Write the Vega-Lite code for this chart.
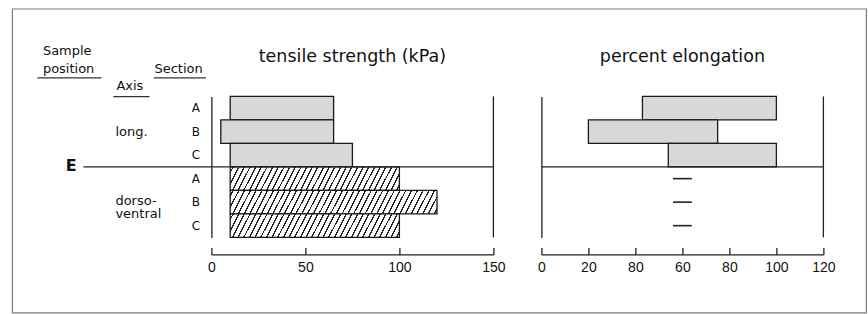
{
  "$schema": "https://vega.github.io/schema/vega-lite/v6.json",
  "background": "white",
  "padding": {"left": 11.4, "top": 7.4, "right": 1, "bottom": 1},
  "bounds": "flush",
  "spacing": 48,
  "datasets": {
    "rows": [
      {"row": "long. A", "axis": "long.", "section": "A", "ts_lo": 10, "ts_hi": 65, "el_lo": 43, "el_hi": 100},
      {"row": "long. B", "axis": "long.", "section": "B", "ts_lo": 5, "ts_hi": 65, "el_lo": 20, "el_hi": 75},
      {"row": "long. C", "axis": "long.", "section": "C", "ts_lo": 10, "ts_hi": 75, "el_lo": 54, "el_hi": 100},
      {"row": "dorso-ventral A", "axis": "dorso-ventral", "section": "A", "ts_lo": 10, "ts_hi": 100, "el_lo": 56, "el_hi": 64},
      {"row": "dorso-ventral B", "axis": "dorso-ventral", "section": "B", "ts_lo": 10, "ts_hi": 120, "el_lo": 56, "el_hi": 64},
      {"row": "dorso-ventral C", "axis": "dorso-ventral", "section": "C", "ts_lo": 10, "ts_hi": 100, "el_lo": 56, "el_hi": 64}
    ]
  },
  "hconcat": [
    {
      "width": 128,
      "height": 141,
      "data": {"values": [{}]},
      "layer": [
        {"mark": {"type": "text", "align": "left", "baseline": "middle", "fontSize": 13},
         "encoding": {"x": {"datum": 5.86, "type": "quantitative", "scale": {"domain": [0, 100], "nice": false, "zero": false}, "axis": null},
                      "y": {"datum": -1.94, "type": "quantitative", "scale": {"domain": [0, 6], "reverse": true, "nice": false, "zero": false}, "axis": null},
                      "text": {"value": "Sample"}}},
        {"mark": {"type": "text", "align": "left", "baseline": "middle", "fontSize": 13},
         "encoding": {"x": {"datum": 5.86, "type": "quantitative", "axis": null},
                      "y": {"datum": -1.15, "type": "quantitative", "axis": null},
                      "text": {"value": "position"}}},
        {"mark": {"type": "text", "align": "left", "baseline": "middle", "fontSize": 13},
         "encoding": {"x": {"datum": 93, "type": "quantitative", "axis": null},
                      "y": {"datum": -1.15, "type": "quantitative", "axis": null},
                      "text": {"value": "Section"}}},
        {"mark": {"type": "text", "align": "left", "baseline": "middle", "fontSize": 13},
         "encoding": {"x": {"datum": 63.3, "type": "quantitative", "axis": null},
                      "y": {"datum": -0.45, "type": "quantitative", "axis": null},
                      "text": {"value": "Axis"}}},
        {"mark": {"type": "text", "align": "left", "baseline": "middle", "fontSize": 13},
         "encoding": {"x": {"datum": 62.5, "type": "quantitative", "axis": null},
                      "y": {"datum": 1.52, "type": "quantitative", "axis": null},
                      "text": {"value": "long."}}},
        {"mark": {"type": "text", "align": "left", "baseline": "middle", "fontSize": 13, "lineHeight": 13.5},
         "encoding": {"x": {"datum": 62.5, "type": "quantitative", "axis": null},
                      "y": {"datum": 4.45, "type": "quantitative", "axis": null},
                      "text": {"value": ["dorso-", "ventral"]}}},
        {"mark": {"type": "text", "align": "center", "baseline": "middle", "fontSize": 16, "fontWeight": "bold"},
         "encoding": {"x": {"datum": 27.9, "type": "quantitative", "axis": null},
                      "y": {"datum": 2.96, "type": "quantitative", "axis": null},
                      "text": {"value": "E"}}},
        {"mark": {"type": "rule", "color": "#333", "strokeWidth": 1.4},
         "encoding": {"x": {"datum": 1.56, "type": "quantitative", "axis": null}, "x2": {"datum": 51.6},
                      "y": {"datum": -0.79, "type": "quantitative", "axis": null}}},
        {"mark": {"type": "rule", "color": "#333", "strokeWidth": 1.4},
         "encoding": {"x": {"datum": 92.6, "type": "quantitative", "axis": null}, "x2": {"datum": 133.2},
                      "y": {"datum": -0.79, "type": "quantitative", "axis": null}}},
        {"mark": {"type": "rule", "color": "#333", "strokeWidth": 1.4},
         "encoding": {"x": {"datum": 60.9, "type": "quantitative", "axis": null}, "x2": {"datum": 89.1},
                      "y": {"datum": 0.01, "type": "quantitative", "axis": null}}},
        {"mark": {"type": "rule", "color": "#222", "strokeWidth": 1.3},
         "encoding": {"x": {"datum": 37.5, "type": "quantitative", "axis": null}, "x2": {"datum": 137.5},
                      "y": {"datum": 3, "type": "quantitative", "axis": null}}},
        {"mark": {"type": "rect", "fill": null, "fillOpacity": 0, "stroke": "#7a7a7a", "strokeWidth": 1.2},
         "encoding": {"x": {"datum": -17.97, "type": "quantitative", "axis": null}, "x2": {"datum": 649.2},
                      "y": {"datum": -3.72, "type": "quantitative", "axis": null}, "y2": {"datum": 9.21}}}
      ]
    },
    {
      "width": 282,
      "height": 141,
      "title": {"text": "tensile strength (kPa)"},
      "data": {"name": "rows"},
      "layer": [
        {"mark": {"type": "bar", "stroke": "#1a1a1a", "strokeWidth": 1.3},
         "encoding": {
           "y": {"field": "row", "type": "nominal",
                 "scale": {"domain": ["long. A", "long. B", "long. C", "dorso-ventral A", "dorso-ventral B", "dorso-ventral C"], "paddingInner": 0, "paddingOuter": 0},
                 "axis": {"title": null, "ticks": false, "tickSize": 0, "labelExpr": "slice(datum.label, -1)", "labelAlign": "center", "labelPadding": 16, "labelFont": "DejaVu Sans", "labelFontSize": 12, "labelColor": "#111"}},
           "x": {"field": "ts_lo", "type": "quantitative", "scale": {"domain": [0, 150], "nice": false, "zero": false},
                 "axis": {"title": null, "values": [0, 50, 100, 150]}},
           "x2": {"field": "ts_hi"},
           "fill": {
             "condition": [
               {"test": "datum.axis === 'long.'", "value": "#d8d8d8"},
               {"test": "datum.section === 'B'", "value": {"gradient": "linear", "x1": 0, "y1": 0, "x2": 1.0545, "y2": 0.0612, "stops": [
                 {"offset": 0, "color": "#fff"},
                 {"offset": 0.01, "color": "#fff"}, {"offset": 0.01, "color": "#222"}, {"offset": 0.0166, "color": "#222"}, {"offset": 0.0166, "color": "#fff"},
                 {"offset": 0.03632, "color": "#fff"}, {"offset": 0.03632, "color": "#222"}, {"offset": 0.04292, "color": "#222"}, {"offset": 0.04292, "color": "#fff"},
                 {"offset": 0.06263, "color": "#fff"}, {"offset": 0.06263, "color": "#222"}, {"offset": 0.06923, "color": "#222"}, {"offset": 0.06923, "color": "#fff"},
                 {"offset": 0.08895, "color": "#fff"}, {"offset": 0.08895, "color": "#222"}, {"offset": 0.09555, "color": "#222"}, {"offset": 0.09555, "color": "#fff"},
                 {"offset": 0.11526, "color": "#fff"}, {"offset": 0.11526, "color": "#222"}, {"offset": 0.12186, "color": "#222"}, {"offset": 0.12186, "color": "#fff"},
                 {"offset": 0.14158, "color": "#fff"}, {"offset": 0.14158, "color": "#222"}, {"offset": 0.14818, "color": "#222"}, {"offset": 0.14818, "color": "#fff"},
                 {"offset": 0.16789, "color": "#fff"}, {"offset": 0.16789, "color": "#222"}, {"offset": 0.17449, "color": "#222"}, {"offset": 0.17449, "color": "#fff"},
                 {"offset": 0.19421, "color": "#fff"}, {"offset": 0.19421, "color": "#222"}, {"offset": 0.20081, "color": "#222"}, {"offset": 0.20081, "color": "#fff"},
                 {"offset": 0.22053, "color": "#fff"}, {"offset": 0.22053, "color": "#222"}, {"offset": 0.22713, "color": "#222"}, {"offset": 0.22713, "color": "#fff"},
                 {"offset": 0.24684, "color": "#fff"}, {"offset": 0.24684, "color": "#222"}, {"offset": 0.25344, "color": "#222"}, {"offset": 0.25344, "color": "#fff"},
                 {"offset": 0.27316, "color": "#fff"}, {"offset": 0.27316, "color": "#222"}, {"offset": 0.27976, "color": "#222"}, {"offset": 0.27976, "color": "#fff"},
                 {"offset": 0.29947, "color": "#fff"}, {"offset": 0.29947, "color": "#222"}, {"offset": 0.30607, "color": "#222"}, {"offset": 0.30607, "color": "#fff"},
                 {"offset": 0.32579, "color": "#fff"}, {"offset": 0.32579, "color": "#222"}, {"offset": 0.33239, "color": "#222"}, {"offset": 0.33239, "color": "#fff"},
                 {"offset": 0.35211, "color": "#fff"}, {"offset": 0.35211, "color": "#222"}, {"offset": 0.35871, "color": "#222"}, {"offset": 0.35871, "color": "#fff"},
                 {"offset": 0.37842, "color": "#fff"}, {"offset": 0.37842, "color": "#222"}, {"offset": 0.38502, "color": "#222"}, {"offset": 0.38502, "color": "#fff"},
                 {"offset": 0.40474, "color": "#fff"}, {"offset": 0.40474, "color": "#222"}, {"offset": 0.41134, "color": "#222"}, {"offset": 0.41134, "color": "#fff"},
                 {"offset": 0.43105, "color": "#fff"}, {"offset": 0.43105, "color": "#222"}, {"offset": 0.43765, "color": "#222"}, {"offset": 0.43765, "color": "#fff"},
                 {"offset": 0.45737, "color": "#fff"}, {"offset": 0.45737, "color": "#222"}, {"offset": 0.46397, "color": "#222"}, {"offset": 0.46397, "color": "#fff"},
                 {"offset": 0.48368, "color": "#fff"}, {"offset": 0.48368, "color": "#222"}, {"offset": 0.49028, "color": "#222"}, {"offset": 0.49028, "color": "#fff"},
                 {"offset": 0.51, "color": "#fff"}, {"offset": 0.51, "color": "#222"}, {"offset": 0.5166, "color": "#222"}, {"offset": 0.5166, "color": "#fff"},
                 {"offset": 0.53632, "color": "#fff"}, {"offset": 0.53632, "color": "#222"}, {"offset": 0.54292, "color": "#222"}, {"offset": 0.54292, "color": "#fff"},
                 {"offset": 0.56263, "color": "#fff"}, {"offset": 0.56263, "color": "#222"}, {"offset": 0.56923, "color": "#222"}, {"offset": 0.56923, "color": "#fff"},
                 {"offset": 0.58895, "color": "#fff"}, {"offset": 0.58895, "color": "#222"}, {"offset": 0.59555, "color": "#222"}, {"offset": 0.59555, "color": "#fff"},
                 {"offset": 0.61526, "color": "#fff"}, {"offset": 0.61526, "color": "#222"}, {"offset": 0.62186, "color": "#222"}, {"offset": 0.62186, "color": "#fff"},
                 {"offset": 0.64158, "color": "#fff"}, {"offset": 0.64158, "color": "#222"}, {"offset": 0.64818, "color": "#222"}, {"offset": 0.64818, "color": "#fff"},
                 {"offset": 0.66789, "color": "#fff"}, {"offset": 0.66789, "color": "#222"}, {"offset": 0.67449, "color": "#222"}, {"offset": 0.67449, "color": "#fff"},
                 {"offset": 0.69421, "color": "#fff"}, {"offset": 0.69421, "color": "#222"}, {"offset": 0.70081, "color": "#222"}, {"offset": 0.70081, "color": "#fff"},
                 {"offset": 0.72053, "color": "#fff"}, {"offset": 0.72053, "color": "#222"}, {"offset": 0.72713, "color": "#222"}, {"offset": 0.72713, "color": "#fff"},
                 {"offset": 0.74684, "color": "#fff"}, {"offset": 0.74684, "color": "#222"}, {"offset": 0.75344, "color": "#222"}, {"offset": 0.75344, "color": "#fff"},
                 {"offset": 0.77316, "color": "#fff"}, {"offset": 0.77316, "color": "#222"}, {"offset": 0.77976, "color": "#222"}, {"offset": 0.77976, "color": "#fff"},
                 {"offset": 0.79947, "color": "#fff"}, {"offset": 0.79947, "color": "#222"}, {"offset": 0.80607, "color": "#222"}, {"offset": 0.80607, "color": "#fff"},
                 {"offset": 0.82579, "color": "#fff"}, {"offset": 0.82579, "color": "#222"}, {"offset": 0.83239, "color": "#222"}, {"offset": 0.83239, "color": "#fff"},
                 {"offset": 0.85211, "color": "#fff"}, {"offset": 0.85211, "color": "#222"}, {"offset": 0.85871, "color": "#222"}, {"offset": 0.85871, "color": "#fff"},
                 {"offset": 0.87842, "color": "#fff"}, {"offset": 0.87842, "color": "#222"}, {"offset": 0.88502, "color": "#222"}, {"offset": 0.88502, "color": "#fff"},
                 {"offset": 0.90474, "color": "#fff"}, {"offset": 0.90474, "color": "#222"}, {"offset": 0.91134, "color": "#222"}, {"offset": 0.91134, "color": "#fff"},
                 {"offset": 0.93105, "color": "#fff"}, {"offset": 0.93105, "color": "#222"}, {"offset": 0.93765, "color": "#222"}, {"offset": 0.93765, "color": "#fff"},
                 {"offset": 0.95737, "color": "#fff"}, {"offset": 0.95737, "color": "#222"}, {"offset": 0.96397, "color": "#222"}, {"offset": 0.96397, "color": "#fff"},
                 {"offset": 0.98368, "color": "#fff"}, {"offset": 0.98368, "color": "#222"}, {"offset": 0.99028, "color": "#222"}, {"offset": 0.99028, "color": "#fff"},
                 {"offset": 1, "color": "#fff"}
               ]}}
             ],
             "value": {"gradient": "linear", "x1": 0, "y1": 0, "x2": 1.0656, "y2": 0.0755, "stops": [
               {"offset": 0, "color": "#fff"},
               {"offset": 0.012, "color": "#fff"}, {"offset": 0.012, "color": "#222"}, {"offset": 0.02, "color": "#222"}, {"offset": 0.02, "color": "#fff"},
               {"offset": 0.04325, "color": "#fff"}, {"offset": 0.04325, "color": "#222"}, {"offset": 0.05125, "color": "#222"}, {"offset": 0.05125, "color": "#fff"},
               {"offset": 0.0745, "color": "#fff"}, {"offset": 0.0745, "color": "#222"}, {"offset": 0.0825, "color": "#222"}, {"offset": 0.0825, "color": "#fff"},
               {"offset": 0.10575, "color": "#fff"}, {"offset": 0.10575, "color": "#222"}, {"offset": 0.11375, "color": "#222"}, {"offset": 0.11375, "color": "#fff"},
               {"offset": 0.137, "color": "#fff"}, {"offset": 0.137, "color": "#222"}, {"offset": 0.145, "color": "#222"}, {"offset": 0.145, "color": "#fff"},
               {"offset": 0.16825, "color": "#fff"}, {"offset": 0.16825, "color": "#222"}, {"offset": 0.17625, "color": "#222"}, {"offset": 0.17625, "color": "#fff"},
               {"offset": 0.1995, "color": "#fff"}, {"offset": 0.1995, "color": "#222"}, {"offset": 0.2075, "color": "#222"}, {"offset": 0.2075, "color": "#fff"},
               {"offset": 0.23075, "color": "#fff"}, {"offset": 0.23075, "color": "#222"}, {"offset": 0.23875, "color": "#222"}, {"offset": 0.23875, "color": "#fff"},
               {"offset": 0.262, "color": "#fff"}, {"offset": 0.262, "color": "#222"}, {"offset": 0.27, "color": "#222"}, {"offset": 0.27, "color": "#fff"},
               {"offset": 0.29325, "color": "#fff"}, {"offset": 0.29325, "color": "#222"}, {"offset": 0.30125, "color": "#222"}, {"offset": 0.30125, "color": "#fff"},
               {"offset": 0.3245, "color": "#fff"}, {"offset": 0.3245, "color": "#222"}, {"offset": 0.3325, "color": "#222"}, {"offset": 0.3325, "color": "#fff"},
               {"offset": 0.35575, "color": "#fff"}, {"offset": 0.35575, "color": "#222"}, {"offset": 0.36375, "color": "#222"}, {"offset": 0.36375, "color": "#fff"},
               {"offset": 0.387, "color": "#fff"}, {"offset": 0.387, "color": "#222"}, {"offset": 0.395, "color": "#222"}, {"offset": 0.395, "color": "#fff"},
               {"offset": 0.41825, "color": "#fff"}, {"offset": 0.41825, "color": "#222"}, {"offset": 0.42625, "color": "#222"}, {"offset": 0.42625, "color": "#fff"},
               {"offset": 0.4495, "color": "#fff"}, {"offset": 0.4495, "color": "#222"}, {"offset": 0.4575, "color": "#222"}, {"offset": 0.4575, "color": "#fff"},
               {"offset": 0.48075, "color": "#fff"}, {"offset": 0.48075, "color": "#222"}, {"offset": 0.48875, "color": "#222"}, {"offset": 0.48875, "color": "#fff"},
               {"offset": 0.512, "color": "#fff"}, {"offset": 0.512, "color": "#222"}, {"offset": 0.52, "color": "#222"}, {"offset": 0.52, "color": "#fff"},
               {"offset": 0.54325, "color": "#fff"}, {"offset": 0.54325, "color": "#222"}, {"offset": 0.55125, "color": "#222"}, {"offset": 0.55125, "color": "#fff"},
               {"offset": 0.5745, "color": "#fff"}, {"offset": 0.5745, "color": "#222"}, {"offset": 0.5825, "color": "#222"}, {"offset": 0.5825, "color": "#fff"},
               {"offset": 0.60575, "color": "#fff"}, {"offset": 0.60575, "color": "#222"}, {"offset": 0.61375, "color": "#222"}, {"offset": 0.61375, "color": "#fff"},
               {"offset": 0.637, "color": "#fff"}, {"offset": 0.637, "color": "#222"}, {"offset": 0.645, "color": "#222"}, {"offset": 0.645, "color": "#fff"},
               {"offset": 0.66825, "color": "#fff"}, {"offset": 0.66825, "color": "#222"}, {"offset": 0.67625, "color": "#222"}, {"offset": 0.67625, "color": "#fff"},
               {"offset": 0.6995, "color": "#fff"}, {"offset": 0.6995, "color": "#222"}, {"offset": 0.7075, "color": "#222"}, {"offset": 0.7075, "color": "#fff"},
               {"offset": 0.73075, "color": "#fff"}, {"offset": 0.73075, "color": "#222"}, {"offset": 0.73875, "color": "#222"}, {"offset": 0.73875, "color": "#fff"},
               {"offset": 0.762, "color": "#fff"}, {"offset": 0.762, "color": "#222"}, {"offset": 0.77, "color": "#222"}, {"offset": 0.77, "color": "#fff"},
               {"offset": 0.79325, "color": "#fff"}, {"offset": 0.79325, "color": "#222"}, {"offset": 0.80125, "color": "#222"}, {"offset": 0.80125, "color": "#fff"},
               {"offset": 0.8245, "color": "#fff"}, {"offset": 0.8245, "color": "#222"}, {"offset": 0.8325, "color": "#222"}, {"offset": 0.8325, "color": "#fff"},
               {"offset": 0.85575, "color": "#fff"}, {"offset": 0.85575, "color": "#222"}, {"offset": 0.86375, "color": "#222"}, {"offset": 0.86375, "color": "#fff"},
               {"offset": 0.887, "color": "#fff"}, {"offset": 0.887, "color": "#222"}, {"offset": 0.895, "color": "#222"}, {"offset": 0.895, "color": "#fff"},
               {"offset": 0.91825, "color": "#fff"}, {"offset": 0.91825, "color": "#222"}, {"offset": 0.92625, "color": "#222"}, {"offset": 0.92625, "color": "#fff"},
               {"offset": 0.9495, "color": "#fff"}, {"offset": 0.9495, "color": "#222"}, {"offset": 0.9575, "color": "#222"}, {"offset": 0.9575, "color": "#fff"},
               {"offset": 0.98075, "color": "#fff"}, {"offset": 0.98075, "color": "#222"}, {"offset": 0.98875, "color": "#222"}, {"offset": 0.98875, "color": "#fff"},
               {"offset": 1, "color": "#fff"}
             ]}
           }
         }},
        {"transform": [{"filter": "datum.row === 'dorso-ventral A'"}],
         "mark": {"type": "rule", "color": "#222", "strokeWidth": 1.3},
         "encoding": {"y": {"field": "row", "type": "nominal", "bandPosition": 0}}},
        {"data": {"values": [{}]},
         "mark": {"type": "rule", "color": "#222", "strokeWidth": 1.3},
         "encoding": {"x": {"datum": 150, "type": "quantitative"}}}
      ]
    },
    {
      "width": 282,
      "height": 141,
      "title": {"text": "percent elongation"},
      "data": {"name": "rows"},
      "layer": [
        {"transform": [{"filter": "datum.axis === 'long.'"}],
         "mark": {"type": "bar", "stroke": "#1a1a1a", "strokeWidth": 1.3, "fill": "#d8d8d8"},
         "encoding": {
           "y": {"field": "row", "type": "nominal",
                 "scale": {"domain": ["long. A", "long. B", "long. C", "dorso-ventral A", "dorso-ventral B", "dorso-ventral C"], "paddingInner": 0, "paddingOuter": 0},
                 "axis": {"title": null, "ticks": false, "tickSize": 0, "labels": false}},
           "x": {"field": "el_lo", "type": "quantitative", "scale": {"domain": [0, 120], "nice": false, "zero": false},
                 "axis": {"title": null, "values": [0, 20, 40, 60, 80, 100, 120], "labelExpr": "datum.value === 40 ? '80' : datum.label"}},
           "x2": {"field": "el_hi"}
         }},
        {"transform": [{"filter": "datum.axis !== 'long.'"}],
         "mark": {"type": "rule", "color": "#222", "strokeWidth": 1.6},
         "encoding": {"y": {"field": "row", "type": "nominal"}, "x": {"field": "el_lo", "type": "quantitative"}, "x2": {"field": "el_hi"}}},
        {"transform": [{"filter": "datum.row === 'dorso-ventral A'"}],
         "mark": {"type": "rule", "color": "#222", "strokeWidth": 1.3},
         "encoding": {"y": {"field": "row", "type": "nominal", "bandPosition": 0}}},
        {"data": {"values": [{}]},
         "mark": {"type": "rule", "color": "#222", "strokeWidth": 1.3},
         "encoding": {"x": {"datum": 120, "type": "quantitative"}}}
      ]
    }
  ],
  "config": {
    "view": {"stroke": null},
    "font": "DejaVu Sans",
    "text": {"color": "#111", "font": "DejaVu Sans", "fontSize": 13},
    "title": {"font": "DejaVu Sans", "fontSize": 17.5, "fontWeight": "normal", "color": "#111", "baseline": "alphabetic", "offset": 30, "anchor": "middle"},
    "axis": {"grid": false, "domainColor": "#222", "domainWidth": 1.3, "tickColor": "#222", "tickWidth": 1.3, "labelColor": "#111"},
    "axisX": {"offset": 17, "tickSize": -7, "labelFont": "Liberation Sans", "labelFontSize": 14, "labelBaseline": "alphabetic", "labelPadding": 24.5, "labelFlush": false, "labelOverlap": false}
  }
}
